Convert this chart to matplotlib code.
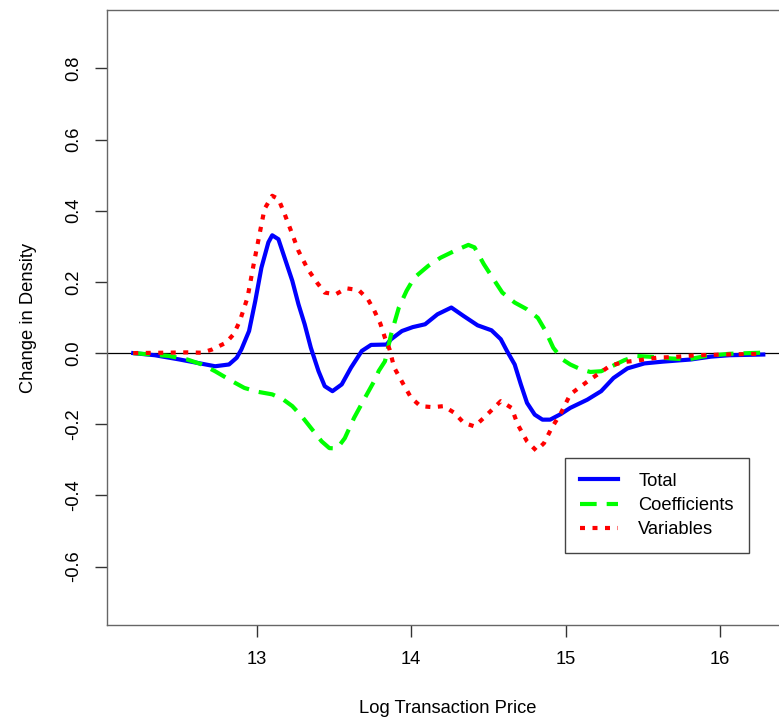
import matplotlib
matplotlib.use("Agg")
from matplotlib import pyplot as plt

plt.rcParams['font.family'] = ['Liberation Sans', 'DejaVu Sans']

# change in density of log price, decomposed into coefficients and variables
total_x = [12.20, 12.34, 12.50, 12.645, 12.73, 12.82, 12.87, 12.90, 12.95, 12.99, 13.03, 13.075,
           13.10, 13.14, 13.18, 13.23, 13.27, 13.31, 13.35, 13.40, 13.44, 13.49, 13.55, 13.61,
           13.68, 13.74, 13.84, 13.87, 13.94, 14.01, 14.09, 14.17, 14.26, 14.34, 14.43, 14.52,
           14.58, 14.62, 14.67, 14.71, 14.75, 14.80, 14.85, 14.90, 14.97, 15.03, 15.14, 15.23,
           15.31, 15.40, 15.51, 15.63, 15.81, 15.94, 16.06, 16.28]
total_y = [0.0, -0.006, -0.018, -0.030, -0.037, -0.032, -0.013, 0.010, 0.062, 0.146, 0.240, 0.311,
           0.331, 0.320, 0.268, 0.203, 0.137, 0.081, 0.015, -0.051, -0.093, -0.107, -0.088, -0.041,
           0.006, 0.023, 0.024, 0.039, 0.062, 0.073, 0.081, 0.109, 0.128, 0.104, 0.078, 0.064,
           0.039, 0.006, -0.032, -0.088, -0.140, -0.173, -0.187, -0.187, -0.171, -0.154, -0.131, -0.107,
           -0.070, -0.043, -0.029, -0.024, -0.018, -0.010, -0.006, -0.004]

coef_x = [12.20, 12.43, 12.55, 12.645, 12.73, 12.84, 12.92, 13.01, 13.10, 13.17, 13.23, 13.29,
          13.35, 13.42, 13.47, 13.52, 13.57, 13.63, 13.70, 13.76, 13.79, 13.83, 13.87, 13.92,
          13.97, 14.02, 14.11, 14.19, 14.28, 14.37, 14.41, 14.47, 14.54, 14.59, 14.67, 14.75,
          14.82, 14.87, 14.92, 14.98, 15.03, 15.10, 15.16, 15.23, 15.29, 15.38, 15.46, 15.57,
          15.68, 15.79, 15.91, 16.06, 16.26]
coef_y = [0.0, -0.008, -0.018, -0.032, -0.051, -0.079, -0.098, -0.109, -0.116, -0.130, -0.149, -0.177,
          -0.210, -0.248, -0.267, -0.268, -0.239, -0.182, -0.126, -0.079, -0.050, -0.023, 0.053, 0.128,
          0.175, 0.212, 0.245, 0.268, 0.287, 0.304, 0.297, 0.250, 0.203, 0.170, 0.142, 0.123,
          0.099, 0.062, 0.015, -0.018, -0.032, -0.046, -0.053, -0.051, -0.039, -0.020, -0.008, -0.011,
          -0.015, -0.018, -0.008, -0.002, 0.001]

var_x = [12.20, 12.39, 12.55, 12.645, 12.71, 12.80, 12.85, 12.89, 12.94, 12.98, 13.02, 13.05,
         13.10, 13.14, 13.18, 13.23, 13.27, 13.33, 13.39, 13.44, 13.51, 13.58, 13.66, 13.72,
         13.76, 13.80, 13.83, 13.86, 13.89, 13.95, 14.00, 14.06, 14.14, 14.21, 14.28, 14.34,
         14.41, 14.47, 14.58, 14.65, 14.69, 14.75, 14.81, 14.86, 14.91, 14.97, 15.03, 15.10,
         15.16, 15.23, 15.29, 15.38, 15.46, 15.59, 15.70, 15.85, 16.02, 16.28]
var_y = [0.0, 0.001, 0.002, 0.001, 0.010, 0.029, 0.053, 0.090, 0.156, 0.250, 0.339, 0.405,
         0.442, 0.433, 0.391, 0.334, 0.287, 0.236, 0.198, 0.170, 0.165, 0.182, 0.177, 0.151,
         0.120, 0.083, 0.043, 0.010, -0.041, -0.088, -0.126, -0.149, -0.152, -0.149, -0.168, -0.196,
         -0.206, -0.182, -0.135, -0.154, -0.201, -0.248, -0.274, -0.253, -0.210, -0.168, -0.116, -0.093,
         -0.074, -0.053, -0.035, -0.025, -0.021, -0.013, -0.011, -0.006, -0.004, -0.002]

fig = plt.figure(figsize=(7.79, 7.18), dpi=100)
ax = fig.add_axes([107 / 779, 1 - 625 / 718, 681 / 779, 615 / 718])

ax.axhline(0, color="black", lw=0.9, zorder=1)
ax.plot(total_x, total_y, color="#0000FF", lw=3, solid_joinstyle="round", label="Total")
ax.plot(coef_x, coef_y, color="#00FF00", lw=3, dashes=(4, 2.4), label="Coefficients")
ax.plot(var_x, var_y, color="#FF0000", lw=3, dashes=(1.2, 1.8), label="Variables")

ax.set_xlim(12.03, 16.44)
ax.set_ylim(-0.764, 0.964)
ax.set_xticks([13, 14, 15, 16])
ax.set_yticks([-0.6, -0.4, -0.2, 0.0, 0.2, 0.4, 0.6, 0.8])
ax.set_yticklabels(["-0.6", "-0.4", "-0.2", "0.0", "0.2", "0.4", "0.6", "0.8"],
                   rotation=90, va="center")
ax.tick_params(length=8.5, width=1, color="#333333", labelsize=13.2, pad=10.5)
ax.tick_params(axis="y", pad=9.5)
for s in ax.spines.values():
    s.set_color("#666666")
    s.set_linewidth(1)

ax.set_xlabel("Log Transaction Price", fontsize=13.2, labelpad=23)
ax.set_ylabel("Change in Density", fontsize=13.2, labelpad=20)

leg = ax.legend(loc="upper left", bbox_to_anchor=(565 / 779, 1 - 458 / 718),
                bbox_transform=fig.transFigure, fancybox=False, edgecolor="#444444",
                fontsize=13.2, handlelength=2.1, handletextpad=1.1, labelspacing=0.4,
                borderpad=0.8, borderaxespad=0, framealpha=1)
leg.get_frame().set_linewidth(1)

fig.savefig("out.png", dpi=100)
